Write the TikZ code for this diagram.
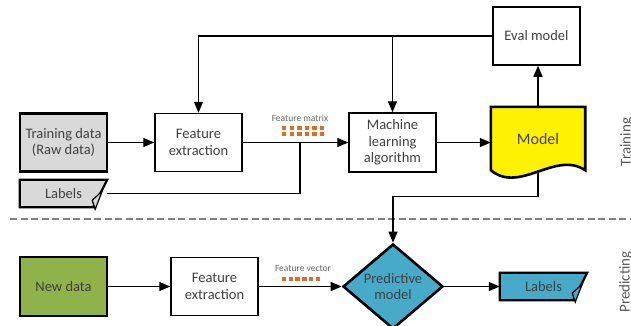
\documentclass[tikz,border=0pt]{standalone}
\usepackage{fontspec}
\setmainfont{Carlito}
\usetikzlibrary{arrows.meta,shapes.geometric,backgrounds,positioning}
\definecolor{boxgray}{RGB}{217,217,217}
\definecolor{datagreen}{RGB}{143,179,74}
\definecolor{predblue}{RGB}{70,170,200}
\definecolor{dotorange}{RGB}{222,110,38}
\definecolor{txtgray}{RGB}{64,64,64}
\begin{document}
\begin{tikzpicture}[x=1pt, y=-1pt, >={Triangle[length=11pt,width=9pt]},
    every node/.style={font=\fontsize{14.5}{16.5}\selectfont, text=txtgray, align=center, inner sep=0pt},
    box/.style={draw, line width=1.5pt, minimum width=87pt, minimum height=58pt, fill=white},
    bold/.style={box, line width=2.6pt},
    card/.style={minimum width=87pt, minimum height=27pt},
    wire/.style={line width=1.4pt},
    small/.style={font=\fontsize{9.5}{11}\selectfont, text=black!60},
    side/.style={rotate=90, anchor=north, font=\fontsize{15}{18}\selectfont, text=black!65}]
  \useasboundingbox (0,0) rectangle (631,325);

  \node[bold, fill=boxgray] (raw) at (63.5,142.5) {Training data\\(Raw data)};
  \node[box, right of=raw, node distance=135pt] (fe1) {Feature\\extraction};
  \node[box, minimum height=59pt, right of=fe1, node distance=194pt] (ml) {Machine\\learning\\algorithm};
  \node[minimum width=94pt, minimum height=63pt, font=\fontsize{16}{18}\selectfont] (model) at (538,138.5) {Model};
  \node[box] (eval) at (536.5,36) {Eval model};
  \node[card] (lab1) at (63.5,193.5) {Labels};
  \coordinate (fm) at (300,143);
  \node[small] (fmat) at (300,118) {Feature matrix};

  \node[bold, fill=datagreen, minimum height=59pt] (new) at (63.5,286.5) {New data};
  \node[box, right of=new, node distance=151pt] (fe2) {Feature\\extraction};
  \node[diamond, draw, line width=2.6pt, fill=predblue, minimum width=100pt, minimum height=74pt, right of=fe2, node distance=178.5pt] (pred) {Predictive\\model};
  \node[card, right of=pred, node distance=150.5pt] (lab2) {Labels};
  \node[small] (fvec) at (303,268) {Feature vector};

  \node[side] (trn) at (620,142) {Training};
  \node[side] (prd) at (619,282) {Predicting};

  \begin{scope}[on background layer]
    \draw[line width=2.6pt, fill=yellow] (model.north west) -- (model.north east) -- (model.south east)
      .. controls ([shift={(-30,-20)}]model.south east) and ([shift={(29,24)}]model.south west) .. (model.south west) -- cycle;
    \draw[line width=2.2pt, fill=boxgray] (lab1.north west) -- (lab1.north east) -- ([xshift=-14pt]lab1.south east) -- (lab1.south west) -- cycle;
    \draw[line width=1.2pt, fill=boxgray] ([shift={(-5,-16)}]lab1.south east) -- ([shift={(-15,-7)}]lab1.south east) -- ([shift={(-12,2)}]lab1.south east) -- cycle;
    \draw[line width=2.2pt, fill=predblue] (lab2.north west) -- (lab2.north east) -- ([xshift=-14pt]lab2.south east) -- (lab2.south west) -- cycle;
    \draw[line width=1.2pt, fill=predblue] ([shift={(-5,-16)}]lab2.south east) -- ([shift={(-15,-7)}]lab2.south east) -- ([shift={(-12,2)}]lab2.south east) -- cycle;
  \end{scope}

  \foreach \i in {0,...,5} \foreach \j in {0,1}
    \fill[dotorange] (282+7.6*\i, 126+5.8*\j) rectangle ++(4.4,4);
  \foreach \i in {0,...,5}
    \fill[dotorange] (282+6.7*\i, 277) rectangle ++(4.4,4);

  \draw[dashed, black!50, line width=1.5pt, dash pattern=on 7pt off 3.5pt] (10,219) -- (631,219);

  \draw[wire,->] (raw) -- (fe1);
  \draw[wire,->] (fe1) -- (ml);
  \draw[wire,->] (ml.east) -- (ml.east -| model.west);
  \draw[wire,->] (model.north) -- (model.north |- eval.south);
  \draw[wire,->] (eval.west) -| (fe1.north);
  \draw[wire,->] (ml.north |- eval.west) -- (ml.north);
  \draw[wire] (lab1.east) -| (fm);
  \draw[wire,->] (model.south) -- ++(0,26) -| (pred.north);
  \draw[wire,->] (new) -- (fe2);
  \draw[wire,->] (fe2) -- (pred);
  \draw[wire,->] (pred) -- (lab2);
\end{tikzpicture}
\end{document}
